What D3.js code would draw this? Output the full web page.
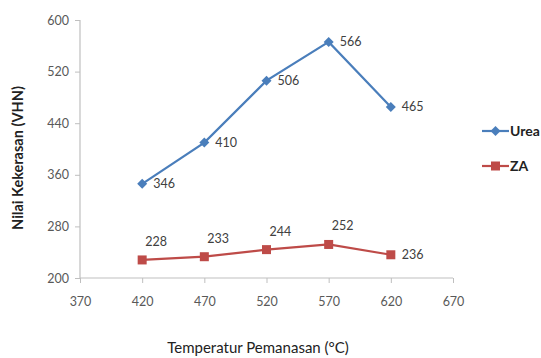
<!DOCTYPE html>
<html><head><meta charset="utf-8">
<script src="https://cdn.jsdelivr.net/npm/d3@7"></script>
<style>body{margin:0;background:#fff}svg{display:block}</style>
</head><body>
<svg id="c" width="541" height="358"></svg>
<script>
const temps = [420, 470, 520, 570, 620];
const urea = [346, 410, 506, 566, 465];
const za = [228, 233, 244, 252, 236];
const xTicks = [370, 420, 470, 520, 570, 620, 670];
const yTicks = [200, 280, 360, 440, 520, 600];
const seriesNames = ["Urea", "ZA"];

const svg = d3.select("#c");
const font = "Lato, 'Open Sans', sans-serif";
const x = d3.scaleLinear().domain([370, 670]).range([80, 453]);
const y = d3.scaleLinear().domain([200, 600]).range([278, 20]);

// axes
const xAxis = svg.append("g").attr("transform", "translate(0,278)")
  .call(d3.axisBottom(x).tickValues(xTicks).tickSize(5).tickPadding(14));
const yAxis = svg.append("g").attr("transform", "translate(80,0)")
  .call(d3.axisLeft(y).tickValues(yTicks).tickSize(5).tickPadding(6));
[xAxis, yAxis].forEach(a => {
  a.select(".domain").attr("stroke", "#bfbfbf").attr("stroke-width", 1.2);
  a.selectAll(".tick line").attr("stroke", "#bfbfbf");
  a.selectAll("text").attr("font-family", font).attr("font-size", 12.5).attr("fill", "#595959");
});
xAxis.select(".domain").attr("d", "M80,0H453");
yAxis.select(".domain").attr("d", "M0,20V278");

// titles
svg.append("text").attr("x", 258).attr("y", 353).attr("text-anchor", "middle")
  .attr("font-family", font).attr("font-size", 15).attr("fill", "#222")
  .text("Temperatur Pemanasan (°C)");
svg.append("text").attr("transform", "translate(23,158) rotate(-90)").attr("text-anchor", "middle")
  .attr("font-family", font).attr("font-size", 14.5).attr("font-weight", "bold").attr("fill", "#222")
  .text("Nilai Kekerasan (VHN)");

const line = d3.line().x((d, i) => x(temps[i])).y(d => y(d));
const blue = "#4a7ebb", red = "#be4b48";
const diamond = d3.symbol(d3.symbolSquare, 50)();

// Urea
svg.append("path").datum(urea).attr("d", line).attr("fill", "none").attr("stroke", blue).attr("stroke-width", 2.2);
svg.selectAll(".ud").data(urea).enter().append("path")
  .attr("d", diamond)
  .attr("transform", (d, i) => `translate(${x(temps[i])},${y(d)}) rotate(45)`).attr("fill", blue);
svg.selectAll(".ul").data(urea).enter().append("text")
  .attr("x", (d, i) => x(temps[i]) + 11).attr("y", d => y(d) + 4)
  .attr("font-family", font).attr("font-size", 12.5).attr("fill", "#404040").text(d => d);

// ZA
svg.append("path").datum(za).attr("d", line).attr("fill", "none").attr("stroke", red).attr("stroke-width", 2.2);
svg.selectAll(".zd").data(za).enter().append("rect")
  .attr("x", (d, i) => x(temps[i]) - 4.5).attr("y", d => y(d) - 4.5)
  .attr("width", 9).attr("height", 9).attr("fill", red);
svg.selectAll(".zl").data(za).enter().append("text")
  .attr("x", (d, i) => i === 4 ? x(temps[i]) + 11 : x(temps[i]) + 3)
  .attr("y", (d, i) => i === 4 ? y(d) + 4 : y(d) - 14)
  .attr("font-family", font).attr("font-size", 12.5).attr("fill", "#404040").text(d => d);

// legend
const leg = svg.append("g");
seriesNames.forEach((n, i) => {
  const ly = 131 + i * 35;
  const col = i === 0 ? blue : red;
  leg.append("line").attr("x1", 482).attr("x2", 509).attr("y1", ly).attr("y2", ly).attr("stroke", col).attr("stroke-width", 2.2);
  if (i === 0) leg.append("path").attr("d", diamond).attr("transform", `translate(495.5,${ly}) rotate(45)`).attr("fill", col);
  else leg.append("rect").attr("x", 491).attr("y", ly - 4.5).attr("width", 9).attr("height", 9).attr("fill", col);
  leg.append("text").attr("x", 510).attr("y", ly + 5).attr("font-family", font).attr("font-size", 14)
    .attr("font-weight", "bold").attr("fill", "#222").text(n);
});
</script>
</body></html>
